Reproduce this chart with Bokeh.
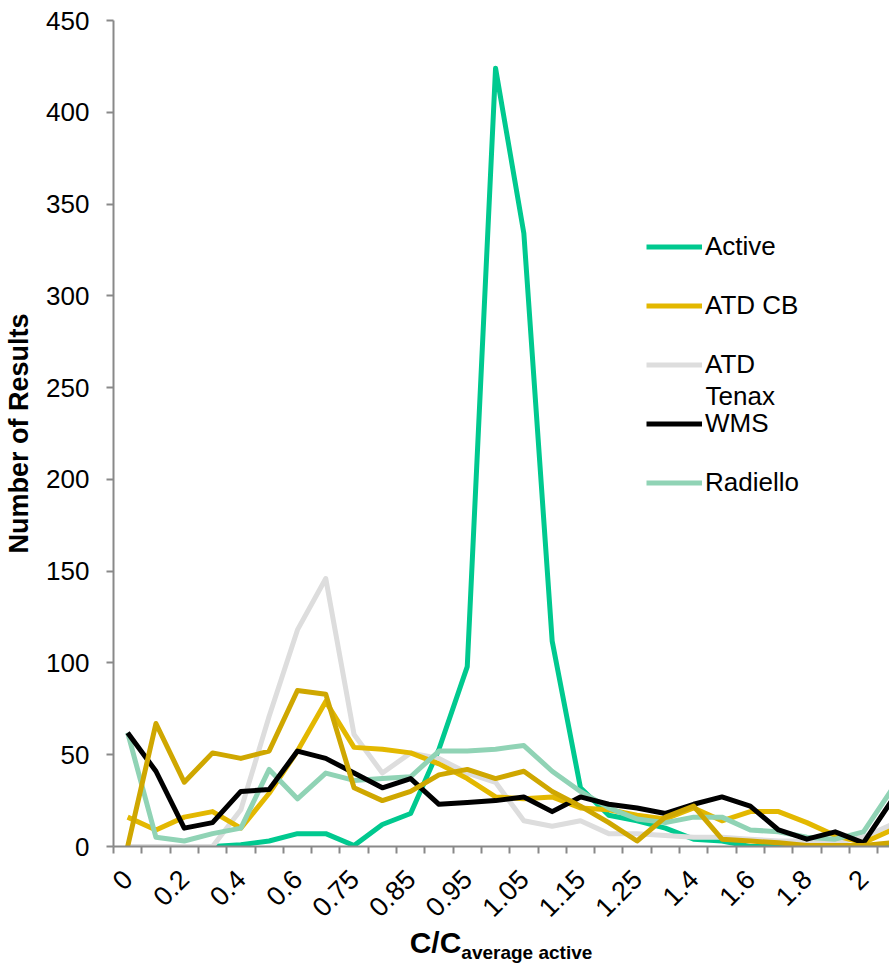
import math
from bokeh.plotting import figure
from bokeh.models import (Range1d, FixedTicker, Legend, LegendItem, Label, Div)
from bokeh.layouts import column
from bokeh.embed import file_html
from bokeh.resources import INLINE

# ---- data -------------------------------------------------------------
categories = ["0", "0.1", "0.2", "0.3", "0.4", "0.5", "0.6", "0.7", "0.75", "0.8",
              "0.85", "0.9", "0.95", "1", "1.05", "1.1", "1.15", "1.2", "1.25", "1.3",
              "1.4", "1.5", "1.6", "1.7", "1.8", "1.9", "2", "2.1"]
active    = [0, 0, 0, 0, 1, 3, 7, 7, 0.5, 12, 18, 53, 98, 424, 334, 112, 32, 17, 14, 10,
             4, 3, 0, 0, 0, 0, 0, 0]
atd_cb    = [16, 9, 16, 19, 10, 29, 52, 79, 54, 53, 51, 45, 37, 27, 26, 27, 21, 20, 17, 15,
             21, 14, 19, 19, 13, 6, 2, 9]
atd_tenax = [0, 0, 0, 0, 20, 71, 118, 146, 61, 40, 51, 48, 40, 35, 14, 11, 14, 7, 7, 6,
             5, 5, 4, 3, 3, 2, 5, 12]
wms       = [62, 41, 10, 13, 30, 31, 52, 48, 40, 32, 37, 23, 24, 25, 27, 19, 27, 23, 21, 18,
             23, 27, 22, 9, 4, 8, 2, 25]
radiello  = [62, 5, 3, 7, 10, 42, 26, 40, 36, 37, 38, 52, 52, 53, 55, 41, 30, 21, 15, 13,
             16, 16, 9, 8, 5, 4, 8, 31]
other_cb  = [0, 67, 35, 51, 48, 52, 85, 83, 32, 25, 30, 39, 42, 37, 41, 30, 22, 13, 3, 16,
             22, 4, 3, 2, 0.5, 0.5, 0.5, 2]
y_ticks = [0, 50, 100, 150, 200, 250, 300, 350, 400, 450]

xs = list(range(len(categories)))
FONT = "Liberation Sans"

p = figure(width=889, height=928, output_backend="svg", toolbar_location=None,
           x_range=Range1d(-0.5, 26.92), y_range=Range1d(0, 450),
           min_border_left=113, min_border_right=0, min_border_top=20,
           min_border_bottom=82)
p.outline_line_color = None
p.xgrid.visible = False
p.ygrid.visible = False
p.background_fill_color = "white"
p.border_fill_color = "white"

LW = 5
r_active = p.line(xs, active, line_color="#00C98F", line_width=LW, line_join="round")
r_tenax = p.line(xs, atd_tenax, line_color="#DDDDDD", line_width=LW, line_join="round")
r_cb = p.line(xs, atd_cb, line_color="#E3B800", line_width=LW, line_join="round")
r_rad = p.line(xs, radiello, line_color="#90D3B5", line_width=LW, line_join="round")
r_wms = p.line(xs, wms, line_color="#000000", line_width=LW, line_join="round")
r_other = p.line(xs, other_cb, line_color="#CFA700", line_width=LW, line_join="round")

# ---- axes ---------------------------------------------------------------
AX = "#898989"
xa = p.xaxis[0]
xa.ticker = FixedTicker(ticks=[i for i in xs if i % 2 == 0],
                        minor_ticks=[i - 0.5 for i in range(len(categories) + 1)])
xa.major_label_overrides = {i: categories[i] for i in xs if i % 2 == 0}
xa.major_label_orientation = math.pi / 4
xa.major_tick_line_color = None
xa.major_tick_out = 0
xa.major_tick_in = 0
xa.minor_tick_line_color = AX
xa.minor_tick_line_width = 2
xa.minor_tick_out = 7
xa.minor_tick_in = 0
xa.axis_line_color = AX
xa.axis_line_width = 2
xa.major_label_standoff = 21
xa.major_label_text_font = FONT
xa.major_label_text_font_size = "27px"
xa.major_label_text_color = "black"

ya = p.yaxis[0]
ya.ticker = FixedTicker(ticks=y_ticks)
ya.axis_line_color = AX
ya.axis_line_width = 2
ya.major_tick_line_color = AX
ya.major_tick_line_width = 2
ya.major_tick_out = 7
ya.major_tick_in = 0
ya.minor_tick_line_color = None
ya.major_label_standoff = 17
ya.major_label_text_font = FONT
ya.major_label_text_font_size = "26px"
ya.major_label_text_color = "black"
ya.axis_label = "Number of Results"
ya.axis_label_text_font = FONT
ya.axis_label_text_font_style = "bold"
ya.axis_label_text_font_size = "27px"
ya.axis_label_text_color = "black"
ya.axis_label_standoff = 9

# ---- legend -------------------------------------------------------------
legend = Legend(items=[
    LegendItem(label="Active", renderers=[r_active]),
    LegendItem(label="ATD CB", renderers=[r_cb]),
    LegendItem(label="ATD", renderers=[r_tenax]),
    LegendItem(label="WMS", renderers=[r_wms]),
    LegendItem(label="Radiello", renderers=[r_rad]),
], location=(533, 348), orientation="vertical",
    label_text_font=FONT, label_text_font_size="26px", label_text_color="black",
    label_height=31, glyph_height=31, glyph_width=56, spacing=28,
    label_standoff=3, padding=0, margin=0,
    border_line_color=None, background_fill_alpha=0)
p.add_layout(legend, "center")
p.add_layout(Label(x=592, y=451, x_units="screen", y_units="screen", text="Tenax",
                   text_font=FONT, text_font_size="26px", text_align="left",
                   text_baseline="middle", text_color="black"))

# ---- x axis title with subscript ---------------------------------------
title = Div(
    text='C/C<sub style="font-size:19px;vertical-align:-6px;">average active</sub>',
    width=776, height=35, margin=(0, 0, 0, 113),
    styles={"font-family": FONT, "font-weight": "bold", "font-size": "30px",
            "text-align": "center", "line-height": "29px", "color": "black",
            "width": "776px"})

layout = column(p, title, spacing=0)
open("out.html", "w").write(file_html(layout, INLINE))
